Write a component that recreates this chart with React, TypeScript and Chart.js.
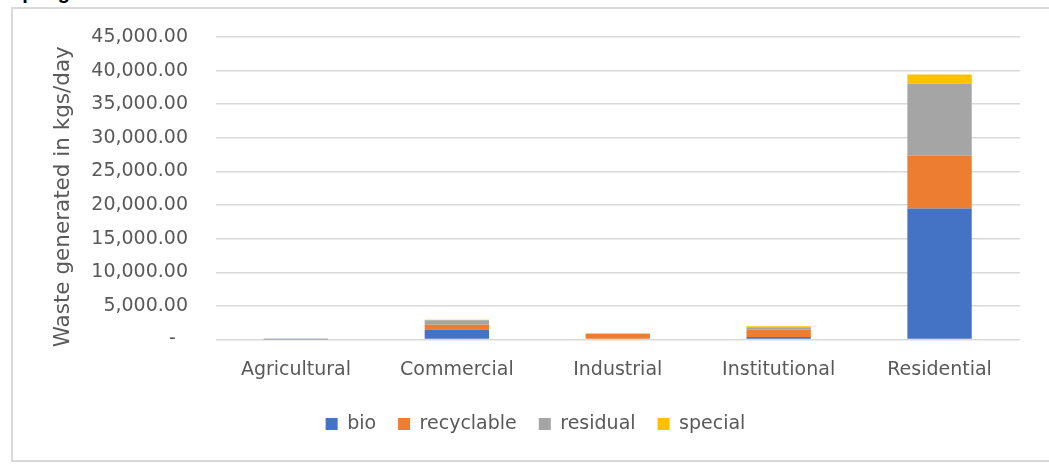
import React, { useEffect, useRef } from 'react';
import { Chart, registerables } from 'chart.js';

Chart.register(...registerables);

const categories = ['Agricultural', 'Commercial', 'Industrial', 'Institutional', 'Residential'];
const bioValues = [2, 1450, 100, 390, 19500];
const recyclableValues = [25, 745, 700, 1100, 7850];
const residualValues = [8, 655, 40, 345, 10700];
const specialValues = [35, 70, 80, 150, 1390];
const seriesNames = ['bio', 'recyclable', 'residual', 'special'];
const seriesColors = ['#4472C4', '#ED7D31', '#A5A5A5', '#FFC000'];
const yTickValues = [0, 5000, 10000, 15000, 20000, 25000, 30000, 35000, 40000, 45000];
const yAxisTitle = 'Waste generated in kgs/day';
const titleText = 'Sampling';

const TEXT = '#595959';
const FONT = 'DejaVu Sans';

function formatTick(v: number): string {
  if (v === 0) return '-  ';
  return v.toLocaleString('en-US', { minimumFractionDigits: 2, maximumFractionDigits: 2 });
}

const yTitlePlugin = {
  id: 'yTitlePlugin',
  afterDraw(chart: any) {
    const { ctx, chartArea } = chart;
    ctx.save();
    ctx.translate(50, (chartArea.top + chartArea.bottom) / 2 + 8.5);
    ctx.rotate(-Math.PI / 2);
    ctx.textAlign = 'center';
    ctx.textBaseline = 'middle';
    ctx.fillStyle = TEXT;
    ctx.font = `21.5px "${FONT}"`;
    ctx.fillText(yAxisTitle, 0, 0);
    ctx.restore();
  },
};

export default function App() {
  const ref = useRef<HTMLCanvasElement>(null);

  useEffect(() => {
    const seriesValues = [bioValues, recyclableValues, residualValues, specialValues];
    const chart = new Chart(ref.current!, {
      type: 'bar',
      data: {
        labels: categories,
        datasets: seriesNames.map((name, i) => ({
          label: name,
          data: seriesValues[i],
          backgroundColor: seriesColors[i],
          borderWidth: 0,
          categoryPercentage: 1,
          barPercentage: 0.4,
        })),
      },
      plugins: [yTitlePlugin],
      options: {
        responsive: false,
        animation: false,
        layout: { padding: { left: 38, right: 27, top: 27, bottom: 16.5 } },
        plugins: {
          tooltip: { enabled: false },
          title: { display: false },
          legend: {
            position: 'bottom',
            labels: {
              boxWidth: 12,
              boxHeight: 12,
              padding: 22,
              color: TEXT,
              font: { family: FONT, size: 19 },
            },
          },
        },
        scales: {
          x: {
            stacked: true,
            grid: { display: false, drawTicks: false },
            border: { display: false },
            ticks: { color: TEXT, font: { family: FONT, size: 19 }, padding: 19, maxRotation: 0 },
            afterFit: (scale: any) => { scale.height = 53; },
          },
          y: {
            stacked: true,
            min: 0,
            max: 45000,
            grid: { color: '#D9D9D9', lineWidth: 1.5, drawTicks: false },
            border: { display: false },
            ticks: {
              color: TEXT,
              font: { family: FONT, size: 19 },
              padding: 27.5,
              callback: (v: any) => formatTick(Number(v)),
            },
            afterBuildTicks: (scale: any) => {
              scale.ticks = yTickValues.map((v) => ({ value: v }));
            },
            afterFit: (scale: any) => {
              scale.width = 164.5;
              scale.paddingTop = 0;
              scale.paddingBottom = 0;
            },
            title: { display: false },
          },
        },
      },
    } as any);
    return () => chart.destroy();
  }, []);

  return (
    <div style={{ position: 'absolute', left: 0, top: 0, width: 1049, height: 468, overflow: 'hidden', background: '#fff' }}>
      <div
        style={{
          position: 'absolute',
          left: -20,
          top: -18,
          font: 'bold 20px "Liberation Sans"',
          lineHeight: '20px',
          color: '#000',
          whiteSpace: 'nowrap',
        }}
      >
        {titleText}
      </div>
      <div style={{ position: 'absolute', left: 11, top: 7, width: 1040, height: 451, border: '2px solid #D9D9D9' }} />
      <div style={{ position: 'absolute', left: 13, top: 10, width: 1034, height: 450 }}>
        <canvas ref={ref} width={1034} height={450} style={{ display: 'block' }} />
      </div>
    </div>
  );
}
